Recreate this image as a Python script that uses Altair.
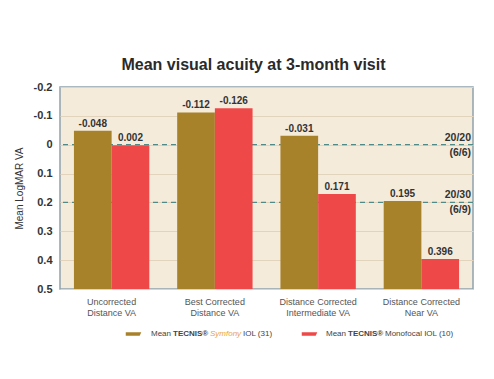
import altair as alt
import pandas as pd

categories = ["Uncorrected\nDistance VA", "Best Corrected\nDistance VA",
              "Distance Corrected\nIntermediate VA", "Distance Corrected\nNear VA"]
series = ["Symfony", "Monofocal"]
symfony_values = [-0.048, -0.112, -0.031, 0.195]
monofocal_values = [0.002, -0.126, 0.171, 0.396]
symfony_labels = ["-0.048", "-0.112", "-0.031", "0.195"]
monofocal_labels = ["0.002", "-0.126", "0.171", "0.396"]
y_ticks = [-0.2, -0.1, 0, 0.1, 0.2, 0.3, 0.4, 0.5]
ref_values = [0, 0.2]
ref_top = ["20/20", "20/30"]
ref_bottom = ["(6/6)", "(6/9)"]

rows = []
for i, c in enumerate(categories):
    rows.append({"cat": c, "series": series[0], "value": symfony_values[i], "label": symfony_labels[i]})
    rows.append({"cat": c, "series": series[1], "value": monofocal_values[i], "label": monofocal_labels[i]})
df = pd.DataFrame(rows)
ref_df = pd.DataFrame({"v": ref_values, "top": ref_top, "bottom": ref_bottom})

FONT = "Liberation Sans, Arial, sans-serif"
GOLD = "#A8822A"
RED = "#EE4848"

W, H = 413, 202

yscale = alt.Scale(domain=[-0.2, 0.5], reverse=True, nice=False, zero=False)
xscale = alt.Scale(domain=categories, paddingInner=0.27, paddingOuter=0.135)
color = alt.Color("series:N", scale=alt.Scale(domain=series, range=[GOLD, RED]), legend=None)

base = alt.Chart(df)

y_axis = alt.Axis(values=y_ticks, title="Mean LogMAR VA", titleFont=FONT,
                  titleFontSize=10, titleFontWeight="normal", titleColor="#333",
                  titlePadding=9, labelFont=FONT, labelFontSize=11, labelColor="#333",
                  labelFontWeight="bold", labelPadding=8, ticks=False, domain=False,
                  labelOverlap=False, labelBound=False,
                  grid=True, gridColor="#E2D4BC", gridWidth=1,
                  labelExpr="datum.value == 0 ? '0' : (datum.value < 0 ? '-' + format(-datum.value, '.1f') : format(datum.value, '.1f'))")
x_axis = alt.Axis(title=None, labelExpr="split(datum.label, '\\n')", labelAngle=0,
                  ticks=False, domain=False, labelFont=FONT, labelFontSize=9,
                  labelColor="#555", labelPadding=8, labelLineHeight=11.5, grid=False)

ref_lines = alt.Chart(ref_df).mark_rule(color="#4F8A88", strokeDash=[5, 4], strokeWidth=1.3).encode(
    y=alt.Y("v:Q", scale=yscale, axis=y_axis),
)

bars = base.mark_bar(opacity=1).encode(
    x=alt.X("cat:N", scale=xscale, sort=categories, axis=x_axis),
    xOffset=alt.XOffset("series:N", sort=series, scale=alt.Scale(paddingInner=0, paddingOuter=0)),
    y=alt.Y("value:Q", scale=yscale, axis=y_axis),
    y2=alt.Y2(datum=0.5),
    color=color,
)

labels = base.mark_text(font=FONT, fontSize=10, fontWeight="bold", color="#333", dy=-7).encode(
    x=alt.X("cat:N", scale=xscale, sort=categories, axis=x_axis),
    xOffset=alt.XOffset("series:N", sort=series, scale=alt.Scale(paddingInner=0, paddingOuter=0)),
    y=alt.Y("value:Q", scale=yscale, axis=y_axis),
    text="label:N",
)

ref_top_text = alt.Chart(ref_df).mark_text(font=FONT, fontSize=10.5, fontWeight="bold", color="#333",
                                           align="right", dy=-7).encode(
    x=alt.value(W - 2), y=alt.Y("v:Q", scale=yscale, axis=y_axis), text="top:N")
ref_bot_text = alt.Chart(ref_df).mark_text(font=FONT, fontSize=10.5, fontWeight="bold", color="#333",
                                           align="right", dy=8).encode(
    x=alt.value(W - 2), y=alt.Y("v:Q", scale=yscale, axis=y_axis), text="bottom:N")

# manual legend
swatch_path = "M -1 -0.22 L 1 -0.22 L 0.8 0.22 L -1 0.22 Z"
LY = 247
def sw(xc, col):
    return alt.Chart(ref_df.head(1)).mark_point(shape=swatch_path, filled=True, size=240,
                                                 color=col, opacity=1, strokeWidth=0).encode(
        x=alt.value(xc), y=alt.value(LY))

def txt(x, s, weight="normal", col="#444", style="normal"):
    return alt.Chart(ref_df.head(1)).mark_text(font=FONT, fontSize=8, fontWeight=weight,
                                               color=col, align="left", fontStyle=style).encode(
        x=alt.value(x), y=alt.value(LY), text=alt.value(s))

legend = (sw(73.5, GOLD) + txt(91, "Mean") + txt(113, "TECNIS®", "bold") +
          txt(150, "Symfony", "normal", "#E9A33F", "italic") + txt(183, "IOL (31)") +
          sw(249.5, RED) + txt(266, "Mean") + txt(288, "TECNIS®", "bold") +
          txt(325, "Monofocal IOL (10)"))

chart = alt.layer(ref_lines, bars, labels, ref_top_text, ref_bot_text, legend).properties(
    width=W, height=H,
    title=alt.TitleParams("Mean visual acuity at 3-month visit", font=FONT, fontSize=16,
                          fontWeight="bold", color="#2a2a2a", anchor="middle", dx=-13, offset=8),
    autosize=alt.AutoSizeParams(type="none"),
    padding={"left": 60, "top": 87, "right": 21, "bottom": 90},
    background="white",
).configure_view(fill="#F5EBDB", stroke="#8FA3AD", strokeWidth=1.5)

chart.save("out.html", embed_options={"renderer": "svg", "actions": False})
